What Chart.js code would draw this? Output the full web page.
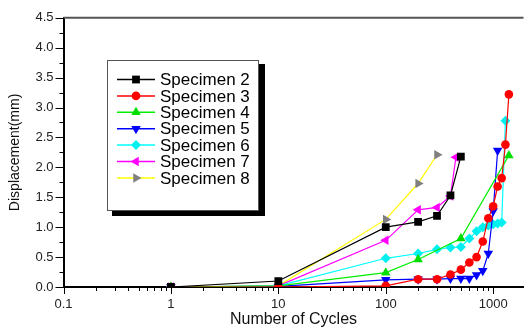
<!DOCTYPE html>
<html>
<head>
<meta charset="utf-8">
<script src="https://cdn.jsdelivr.net/npm/chart.js@4.4.0/dist/chart.umd.min.js"></script>
<style>
  html, body { margin: 0; padding: 0; background: #fff; }
  canvas { display: block; }
</style>
</head>
<body>
<canvas id="myChart" width="529" height="329"></canvas>
<script>
// values (cycles on a log axis, displacement in mm)

let names = ["Specimen 2", "Specimen 3", "Specimen 4", "Specimen 5", "Specimen 6", "Specimen 7", "Specimen 8"];

let cycles2 = [1, 10, 100, 200, 300, 400, 500];
let disp2 = [0, 0.1, 1.0, 1.09, 1.19, 1.53, 2.18];

let cycles3 = [1, 10, 100, 200, 300, 400, 500, 600, 700, 800, 900, 1000, 1100, 1200, 1300, 1400];
let disp3 = [0, 0, 0.02, 0.13, 0.13, 0.21, 0.29, 0.41, 0.5, 0.76, 1.15, 1.35, 1.68, 1.82, 2.38, 3.22];

let cycles4 = [1, 10, 100, 200, 500, 1400];
let disp4 = [0, 0.02, 0.24, 0.46, 0.81, 2.2];

let cycles5 = [1, 10, 100, 200, 300, 400, 500, 600, 700, 800, 900, 1000, 1100];
let disp5 = [0, 0.01, 0.12, 0.13, 0.13, 0.14, 0.14, 0.14, 0.2, 0.27, 0.56, 1.27, 2.28];

let cycles6 = [1, 10, 100, 200, 300, 400, 500, 600, 700, 800, 900, 1000, 1100, 1200, 1300];
let disp6 = [0, 0.02, 0.48, 0.56, 0.63, 0.66, 0.67, 0.81, 0.93, 1.0, 1.03, 1.05, 1.06, 1.08, 2.78];

let cycles7 = [1, 10, 100, 200, 300, 400, 450];
let disp7 = [0, 0.02, 0.78, 1.29, 1.33, 1.52, 2.17];

let cycles8 = [1, 10, 100, 200, 300];
let disp8 = [0, 0.02, 1.13, 1.73, 2.21];

let xMajor = [0.1, 1, 10, 100, 1000];

// helpers

function pairs(xs, ys) {
  return xs.map((x, i) => ({ x: x, y: ys[i] }));
}

function series(label, xs, ys, line, fill, style, rotation, radius) {
  return {
    label: label,
    data: pairs(xs, ys),
    borderColor: line,
    backgroundColor: fill,
    borderWidth: 1.2,
    tension: 0,
    pointStyle: style,
    rotation: rotation,
    pointRadius: radius,
    pointBackgroundColor: fill,
    pointBorderWidth: 0,
  };
}

let datasets = [
  series(names[0], cycles2, disp2, "#000000", "#000000", "rect", 0, 5.5),
  series(names[1], cycles3, disp3, "#ff0000", "#ff0000", "circle", 0, 4.3),
  series(names[2], cycles4, disp4, "#00ee00", "#00dd00", "triangle", 0, 5.5),
  series(names[3], cycles5, disp5, "#0000ff", "#0000ff", "triangle", 180, 5.5),
  series(names[4], cycles6, disp6, "#00ffff", "#00f0f0", "rectRot", 0, 5),
  series(names[5], cycles7, disp7, "#ff00ff", "#ff00ff", "triangle", 270, 5.5),
  series(names[6], cycles8, disp8, "#ffff00", "#808080", "triangle", 90, 5.5),
];

// all x ticks: 1..9 for each decade, from 0.1 up to the right edge
let xTicks = [];
for (let d = 0.1; d <= 1000; d *= 10) {
  for (let m = 1; m <= 9; m++) {
    let v = Math.round(d * m * 1000) / 1000;
    if (v <= 1900) xTicks.push(v);
  }
}

let tickFont = { family: "Liberation Sans, Arial", size: 13 };

// frame top line, tick marks with major/minor length
let frame = {
  id: "frame",
  afterDraw(chart) {
    let c = chart.ctx;
    let a = chart.chartArea;
    let xs = chart.scales.x;
    let ys = chart.scales.y;
    c.save();
    c.strokeStyle = "#555";
    c.lineWidth = 2;
    c.beginPath();
    c.moveTo(a.left, a.top);
    c.lineTo(a.right, a.top);
    c.stroke();

    c.strokeStyle = "#000";
    c.lineWidth = 1;
    c.beginPath();
    xs.ticks.forEach((t) => {
      let px = Math.round(xs.getPixelForValue(t.value)) + 0.5;
      let len = xMajor.includes(t.value) ? 7 : 4;
      c.moveTo(px, a.bottom);
      c.lineTo(px, a.bottom + len);
    });
    ys.ticks.forEach((t) => {
      let py = Math.round(ys.getPixelForValue(t.value)) + 0.5;
      let major = Math.abs(t.value * 2 - Math.round(t.value * 2)) < 1e-6;
      let len = major ? 8 : 4;
      c.moveTo(a.left, py);
      c.lineTo(a.left - len, py);
    });
    c.stroke();
    c.restore();
  },
};

// boxed legend with a drop shadow, line through each marker
let boxLegend = {
  id: "boxLegend",
  afterDraw(chart) {
    let c = chart.ctx;
    c.save();
    c.fillStyle = "#000";
    c.fillRect(112, 64, 153, 152);
    c.fillStyle = "#fff";
    c.fillRect(107, 60, 152, 151);
    c.strokeStyle = "#555";
    c.lineWidth = 1;
    c.strokeRect(107.5, 60.5, 151, 150);

    chart.data.datasets.forEach((ds, i) => {
      let y = 79.5 + i * 16.4;
      c.strokeStyle = ds.borderColor;
      c.lineWidth = 1.5;
      c.beginPath();
      c.moveTo(117, y);
      c.lineTo(155, y);
      c.stroke();
      c.fillStyle = ds.pointBackgroundColor;
      Chart.helpers.drawPoint(c, {
        pointStyle: ds.pointStyle,
        rotation: ds.rotation,
        radius: ds.pointRadius,
        borderWidth: 0,
      }, 136, y);
      c.fillStyle = "#000";
      c.font = "17px 'Liberation Sans', Arial";
      c.textBaseline = "middle";
      c.fillText(ds.label, 160, y + 1);
    });
    c.restore();
  },
};

let myChart = new Chart(document.getElementById("myChart").getContext("2d"), {
  type: "line",
  data: { datasets: datasets },
  plugins: [frame, boxLegend],
  options: {
    responsive: false,
    animation: false,
    layout: { padding: { top: 12, right: 0, bottom: 0, left: 0 } },
    plugins: {
      legend: { display: false },
      tooltip: { enabled: false },
    },
    scales: {
      x: {
        type: "logarithmic",
        min: 0.1,
        max: 1915,
        afterBuildTicks: (scale) => {
          scale.ticks = xTicks.map((v) => ({ value: v }));
        },
        afterFit: (scale) => {
          scale.height = 42;
        },
        ticks: {
          autoSkip: false,
          maxRotation: 0,
          padding: 10,
          color: "#222",
          font: tickFont,
          callback: (value) => (xMajor.includes(value) ? String(value) : ""),
        },
        grid: { display: false, drawTicks: false },
        border: { display: true, color: "#000", width: 2 },
        title: {
          display: true,
          text: "Number of Cycles",
          color: "#111",
          font: { family: "Liberation Sans, Arial", size: 16 },
          padding: { top: 0, bottom: 0 },
        },
      },
      y: {
        type: "linear",
        min: 0,
        max: 4.5,
        afterFit: (scale) => {
          scale.width = 63.5;
        },
        ticks: {
          stepSize: 0.25,
          autoSkip: false,
          padding: 10,
          color: "#222",
          font: tickFont,
          callback: (value) =>
            Math.abs(value * 2 - Math.round(value * 2)) < 1e-6 ? value.toFixed(1) : "",
        },
        grid: { display: false, drawTicks: false },
        border: { display: true, color: "#000", width: 2 },
        title: {
          display: true,
          text: "Displacement(mm)",
          color: "#111",
          font: { family: "Liberation Sans, Arial", size: 14 },
          padding: { top: 7, bottom: 0 },
        },
      },
    },
  },
});
</script>
</body>
</html>
